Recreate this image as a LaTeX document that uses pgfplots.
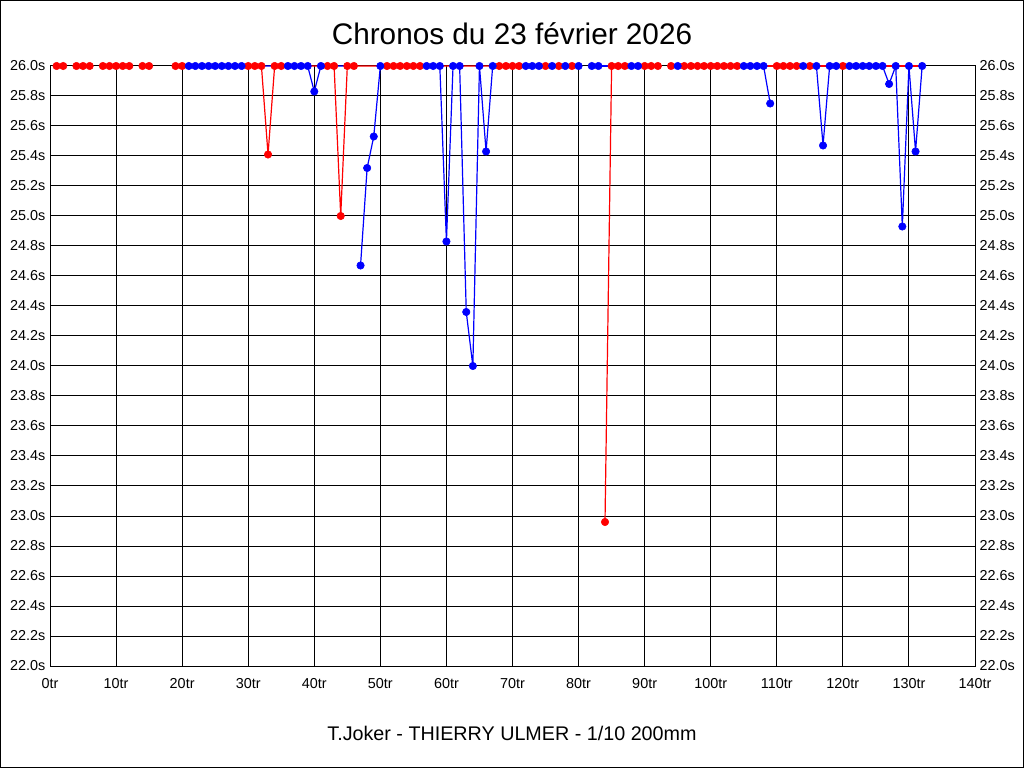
\documentclass[border=0pt]{standalone}
\usepackage{fontspec}
\setmainfont{Liberation Sans}
\usepackage{pgfplots}
\pgfplotsset{compat=1.18}
\definecolor{pr}{RGB}{255,0,0}
\definecolor{pb}{RGB}{0,0,255}
\begin{document}
\begin{tikzpicture}[x=1pt,y=1pt]
\path[use as bounding box] (0,0) rectangle (768,576);
\draw[line width=0.75pt] (0.375,0.375) rectangle (767.625,575.625);
\pgfplotsset{base/.style={
  at={(37.5pt,76.5pt)}, anchor=south west, scale only axis,
  width=693.75pt, height=450pt,
  xmin=0, xmax=140, ymin=22, ymax=26,
  xtick={0,10,20,30,40,50,60,70,80,90,100,110,120,130,140},
  ytick={22.0,22.2,22.4,22.6,22.8,23.0,23.2,23.4,23.6,23.8,24.0,24.2,24.4,24.6,24.8,25.0,25.2,25.4,25.6,25.8,26.0},
  major tick length=0pt,
  tick label style={font=\fontsize{10.8}{12}\selectfont},
  xticklabel style={yshift=-5.5pt},
  /pgf/number format/assume math mode=true,
  xticklabel={\pgfmathprintnumber{\tick}tr},
  yticklabel={\pgfmathprintnumber[fixed,fixed zerofill,precision=1]{\tick}s},
}}
\begin{axis}[base,
  grid=major, grid style={black,line width=0.75pt},
  axis line style={black,line width=0.75pt},
  yticklabel pos=left, clip=false]
% red series (lines)
\addplot[pr,line width=0.9pt] coordinates {(1,26)(2,26)};
\addplot[pr,line width=0.9pt] coordinates {(4,26)(5,26)(6,26)};
\addplot[pr,line width=0.9pt] coordinates {(8,26)(9,26)(10,26)(11,26)(12,26)};
\addplot[pr,line width=0.9pt] coordinates {(14,26)(15,26)};
\addplot[pr,line width=0.9pt] coordinates {(19,26)(20,26)(21,26)(22,26)(23,26)(24,26)(25,26)(26,26)(27,26)(28,26)(29,26)(30,26)(31,26)(32,26)(33,25.41)(34,26)(35,26)(36,26)(37,26)(38,26)(39,26)(40,26)(41,26)(42,26)(43,26)(44,25.00)(45,26)(46,26)(47,26)(48,26)(49,26)(50,26)(51,26)(52,26)(53,26)(54,26)(55,26)(56,26)(57,26)(58,26)(59,26)(60,26)(61,26)(62,26)(63,26)(64,26)(65,26)(66,26)(67,26)(68,26)(69,26)(70,26)(71,26)(72,26)(73,26)(74,26)(75,26)(76,26)(77,26)(78,26)(79,26)(80,26)};
\addplot[pr,line width=0.9pt] coordinates {(82,26)(83,26)};
\addplot[pr,line width=0.9pt] coordinates {(84,22.96)(85,26)(86,26)(87,26)(88,26)(89,26)(90,26)(91,26)(92,26)};
\addplot[pr,line width=0.9pt] coordinates {(94,26)(95,26)(96,26)(97,26)(98,26)(99,26)(100,26)(101,26)(102,26)(103,26)(104,26)(105,26)(106,26)(107,26)(108,26)(109,26)(110,26)(111,26)(112,26)(113,26)(114,26)(115,26)(116,26)(117,26)(118,26)(119,26)(120,26)(121,26)(122,26)(123,26)(124,26)(125,26)(126,26)(127,26)(128,26)(129,26)(130,26)(131,26)(132,26)};
% blue series (lines)
\addplot[pb,line width=0.9pt] coordinates {(1,26)(2,26)};
\addplot[pb,line width=0.9pt] coordinates {(4,26)(5,26)(6,26)};
\addplot[pb,line width=0.9pt] coordinates {(8,26)(9,26)(10,26)(11,26)(12,26)};
\addplot[pb,line width=0.9pt] coordinates {(14,26)(15,26)};
\addplot[pb,line width=0.9pt] coordinates {(19,26)(20,26)(21,26)(22,26)(23,26)(24,26)(25,26)(26,26)(27,26)(28,26)(29,26)(30,26)(31,26)(32,26)(33,26)(34,26)(35,26)(36,26)(37,26)(38,26)(39,26)(40,25.83)(41,26)(42,26)(43,26)(44,26)(45,26)};
\addplot[pb,line width=0.9pt] coordinates {(47,24.67)(48,25.32)(49,25.53)(50,26)(51,26)(52,26)(53,26)(54,26)(55,26)(56,26)(57,26)(58,26)(59,26)(60,24.83)(61,26)(62,26)(63,24.36)(64,24.00)(65,26)(66,25.43)(67,26)(68,26)(69,26)(70,26)(71,26)(72,26)(73,26)(74,26)(75,26)(76,26)(77,26)(78,26)(79,26)(80,26)};
\addplot[pb,line width=0.9pt] coordinates {(82,26)(83,26)(84,26)(85,26)(86,26)(87,26)(88,26)(89,26)(90,26)(91,26)(92,26)};
\addplot[pb,line width=0.9pt] coordinates {(94,26)(95,26)(96,26)(97,26)(98,26)(99,26)(100,26)(101,26)(102,26)(103,26)(104,26)(105,26)(106,26)(107,26)(108,26)(109,25.75)};
\addplot[pb,line width=0.9pt] coordinates {(110,26)(111,26)(112,26)(113,26)(114,26)(115,26)(116,26)(117,25.47)(118,26)(119,26)(120,26)(121,26)(122,26)(123,26)(124,26)(125,26)(126,26)(127,25.88)(128,26)(129,24.93)(130,26)(131,25.43)(132,26)};
% visible marks
\addplot[only marks,mark=*,mark size=2.8pt,pr,mark options={fill=pr,draw=pr}] coordinates {(1,26)(2,26)(4,26)(5,26)(6,26)(8,26)(9,26)(10,26)(11,26)(12,26)(14,26)(15,26)(19,26)(20,26)(30,26)(31,26)(32,26)(33,25.41)(34,26)(35,26)(42,26)(43,26)(44,25.00)(45,26)(46,26)(51,26)(52,26)(53,26)(54,26)(55,26)(56,26)(68,26)(69,26)(70,26)(71,26)(75,26)(77,26)(79,26)(84,22.96)(85,26)(86,26)(87,26)(90,26)(91,26)(92,26)(94,26)(96,26)(97,26)(98,26)(99,26)(100,26)(101,26)(102,26)(103,26)(104,26)(110,26)(111,26)(112,26)(113,26)(115,26)(120,26)};
\addplot[only marks,mark=*,mark size=2.8pt,pb,mark options={fill=pb,draw=pb}] coordinates {(21,26)(22,26)(23,26)(24,26)(25,26)(26,26)(27,26)(28,26)(29,26)(36,26)(37,26)(38,26)(39,26)(40,25.83)(41,26)(47,24.67)(48,25.32)(49,25.53)(50,26)(57,26)(58,26)(59,26)(60,24.83)(61,26)(62,26)(63,24.36)(64,24.00)(65,26)(66,25.43)(67,26)(72,26)(73,26)(74,26)(76,26)(78,26)(80,26)(82,26)(83,26)(88,26)(89,26)(95,26)(105,26)(106,26)(107,26)(108,26)(109,25.75)(114,26)(116,26)(117,25.47)(118,26)(119,26)(121,26)(122,26)(123,26)(124,26)(125,26)(126,26)(127,25.88)(128,26)(129,24.93)(130,26)(131,25.43)(132,26)};
\end{axis}
\begin{axis}[base, yticklabel pos=right, xtick=\empty,
  axis line style={draw=none}]
\end{axis}
\node[font=\fontsize{22.3}{26}\selectfont] at (384,550.5) {Chronos du 23 février 2026};
\node[font=\fontsize{14.8}{17}\selectfont] at (384,26.25) {T.Joker - THIERRY ULMER - 1/10 200mm};
\end{tikzpicture}
\end{document}
